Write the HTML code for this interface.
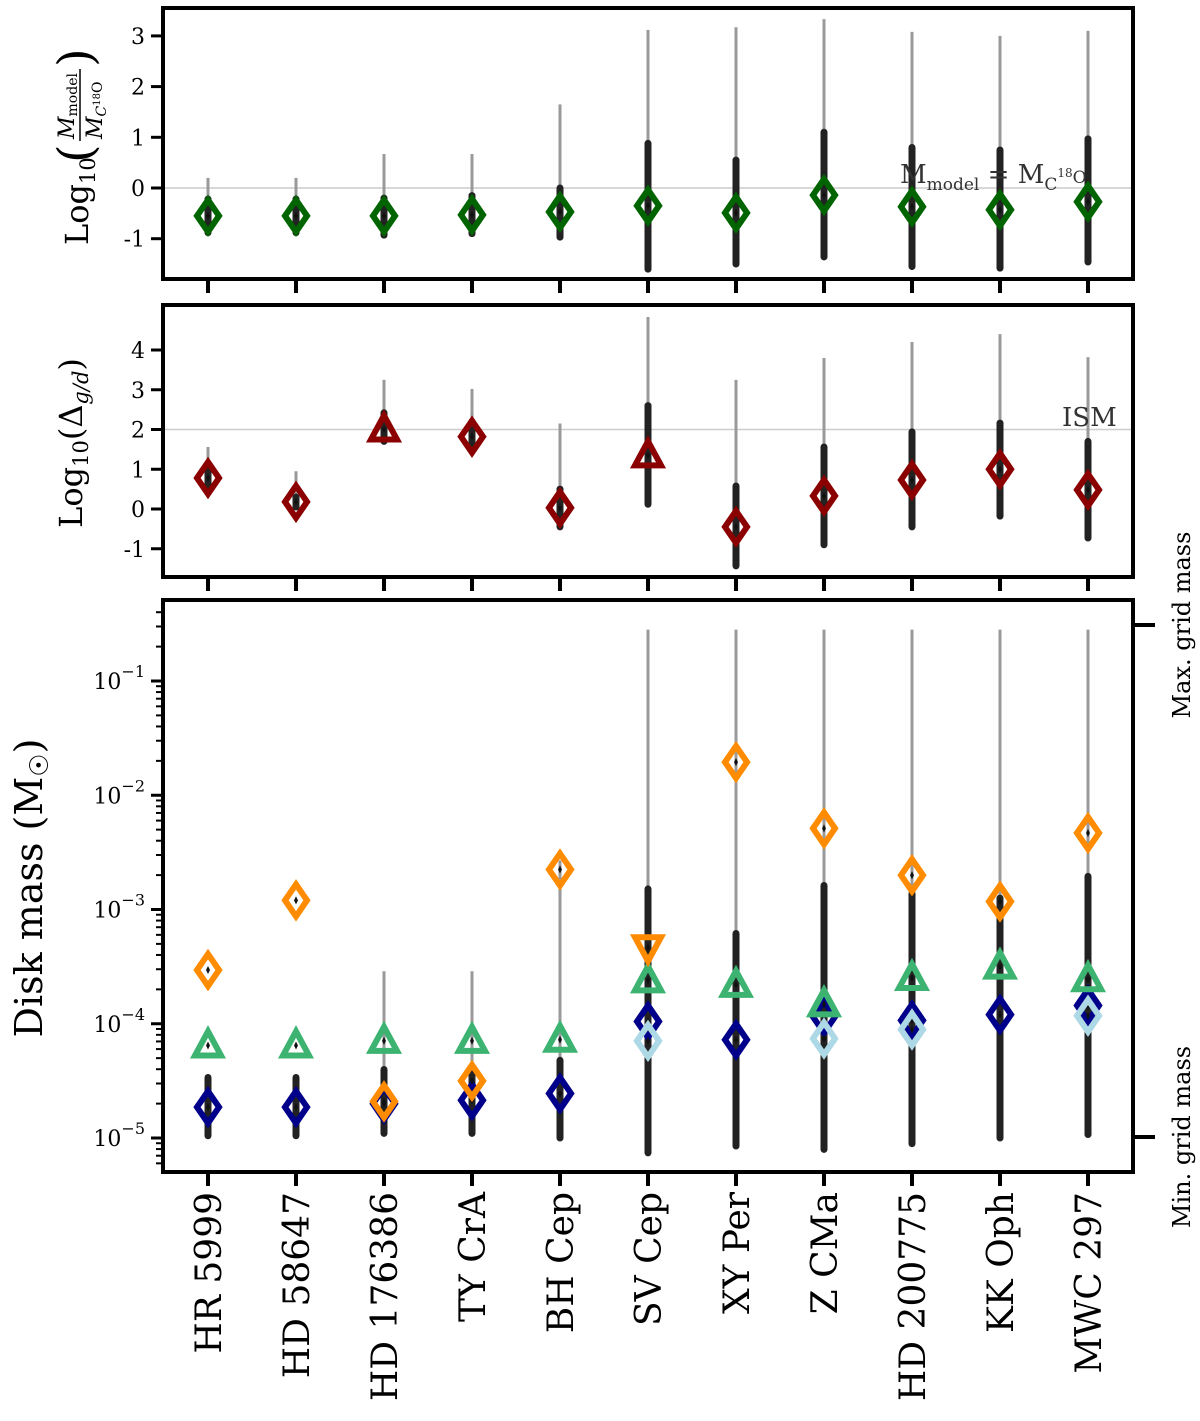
<!DOCTYPE html>
<html><head><meta charset="utf-8"><style>
body{margin:0;background:#fff;}
svg{display:block;font-family:"DejaVu Serif","Liberation Serif",serif;}
</style></head><body>
<svg id="c" width="1200" height="1421" viewBox="0 0 1200 1421"></svg>
<script>
const stars=["HR 5999","HD 58647","HD 176386","TY CrA","BH Cep","SV Cep","XY Per","Z CMa","HD 200775","KK Oph","MWC 297"];
// Panel 1: log10(Mmodel/MC18O)
const p1Val=[-0.55,-0.55,-0.55,-0.53,-0.47,-0.35,-0.49,-0.14,-0.37,-0.43,-0.27];
const p1ThickLo=[-0.88,-0.88,-0.93,-0.9,-0.97,-1.6,-1.5,-1.36,-1.55,-1.58,-1.46];
const p1ThickHi=[-0.22,-0.22,-0.2,-0.15,0.0,0.88,0.55,1.1,0.8,0.75,0.97];
const p1ThinHi=[0.2,0.2,0.67,0.67,1.65,3.12,3.17,3.33,3.08,3.0,3.1];
// Panel 2: log10 gas-to-dust
const p2Val=[0.78,0.18,2.0,1.82,0.03,1.35,-0.45,0.33,0.73,1.0,0.48];
const p2Shape=["d","d","t","d","d","t","d","d","d","d","d"];
const p2ThickLo=[0.6,0.05,1.7,1.5,-0.45,0.12,-1.43,-0.9,-0.45,-0.18,-0.73];
const p2ThickHi=[1.0,0.3,2.42,2.2,0.5,2.6,0.58,1.56,1.94,2.16,1.7];
const p2ThinHi=[1.56,0.95,3.25,3.02,2.15,4.83,3.25,3.8,4.2,4.4,3.82];
// Panel 3: log10 disk mass (Msun)
const p3Orange=[-3.53,-2.92,-4.68,-4.5,-2.65,-3.33,-1.71,-2.29,-2.70,-2.93,-2.33];
const p3OrangeShape=["d","d","d","d","d","v","d","d","d","d","d"];
const p3Green=[-4.19,-4.19,-4.15,-4.15,-4.14,-3.62,-3.66,-3.83,-3.60,-3.50,-3.61];
const p3Navy=[-4.73,-4.73,-4.70,-4.67,-4.61,-3.98,-4.14,-3.94,-3.97,-3.92,-3.84];
const p3Light=[null,null,null,null,null,-4.15,null,-4.13,-4.05,null,-3.93];
const p3ThickLo=[-4.98,-4.98,-4.96,-4.96,-5.0,-5.13,-5.07,-5.1,-5.05,-5.0,-4.97];
const p3ThickHi=[-4.47,-4.47,-4.40,-4.40,-4.32,-2.82,-3.21,-2.79,-2.86,-2.9,-2.71];
const p3ThinHi=[null,null,-3.54,-3.54,-2.57,-0.55,-0.55,-0.55,-0.55,-0.55,-0.55];
const p1Ticks=[3,2,1,0,-1];
const p2Ticks=[4,3,2,1,0,-1];
const p3Ticks=[-1,-2,-3,-4,-5];

const svg=document.getElementById('c');
const NS="http://www.w3.org/2000/svg";
function el(tag,attrs,parent){const e=document.createElementNS(NS,tag);for(const k in attrs)e.setAttribute(k,attrs[k]);(parent||svg).appendChild(e);return e;}
const X0=163,X1=1133;
const xs=i=>208+i*88;
const y1=v=>188-v*50.7;
const y2=v=>509-v*39.75;
const y3=v=>1138-(v+5)*114.25;

function frame(top,bot,name){
  const r=el('rect',{x:X0,y:top,width:X1-X0,height:bot-top,fill:'none',stroke:'#000','stroke-width':4});
  
  
  stars.forEach((s,i)=>{const t=el('line',{x1:xs(i),x2:xs(i),y1:bot,y2:bot+14,stroke:'#000','stroke-width':4});
    
    });
}
function yticks(ticks,f,name,lbl){
  const g=el('g',{});
  
  
  ticks.forEach(v=>{const y=f(v);
    el('line',{x1:X0-12,x2:X0,y1:y,y2:y,stroke:'#000','stroke-width':3},g);
    const t=el('text',{x:X0-18,y:y+8,'text-anchor':'end','font-size':22},g);
    if(lbl){t.textContent='10';const s=el('tspan',{dy:-12,'font-size':16},t);s.textContent='\u2212'+(-v);}
    else t.textContent=v<0?'-'+(-v):String(v);
  });
}
function errbar(i,lo,hi,f,thin){
  const l=el('line',{x1:xs(i),x2:xs(i),y1:f(lo),y2:f(hi),stroke:thin?'#9a9a9a':'#222','stroke-width':thin?3:7,'stroke-linecap':thin?'butt':'round'});
  
  
}
function marker(i,y,shape,color,name){
  const x=xs(i);let m;
  if(shape==='d')m=el('polygon',{points:`${x},${y-16} ${x+11},${y} ${x},${y+16} ${x-11},${y}`,fill:'none',stroke:color,'stroke-width':6,'stroke-linejoin':'miter'});
  else if(shape==='t')m=el('polygon',{points:`${x},${y-14} ${x+13},${y+10} ${x-13},${y+10}`,fill:'none',stroke:color,'stroke-width':6});
  else m=el('polygon',{points:`${x},${y+14} ${x+13},${y-10} ${x-13},${y-10}`,fill:'none',stroke:color,'stroke-width':6});
  
  
  el('polygon',{points:`${x},${y-4} ${x+2},${y} ${x},${y+4} ${x-2},${y}`,fill:'#111'});
}
// Panel 1
el('line',{x1:X0,x2:X1,y1:y1(0),y2:y1(0),stroke:'#ccc','stroke-width':1.5});
stars.forEach((s,i)=>{errbar(i,p1ThickLo[i],p1ThinHi[i],y1,true);errbar(i,p1ThickLo[i],p1ThickHi[i],y1,false);marker(i,y1(p1Val[i]),'d','#006400','mass-ratio-point');});
frame(8,279,'panel-mass-ratio');
yticks(p1Ticks,y1,'y-ticks-mass-ratio',false);
let t=el('text',{x:900,y:183,'font-size':26,fill:'#333'});


t.innerHTML='M<tspan dy="7" font-size="17">model</tspan><tspan dy="-7"> = M</tspan><tspan dy="7" font-size="17">C</tspan><tspan dy="-13" font-size="12">18</tspan><tspan dy="6" font-size="17">O</tspan>';
const g1=el('g',{transform:'translate(80,145) rotate(-90)'});


el('text',{x:-100,y:8,'font-size':32},g1).innerHTML='Log<tspan dy="7" font-size="21">10</tspan>';
el('text',{x:-18,y:12,'font-size':48,'font-weight':'lighter'},g1).textContent='(';
el('text',{x:6,y:-6,'font-size':22,'font-style':'italic'},g1).innerHTML='M<tspan dy="3" font-size="14" font-style="normal">model</tspan>';
el('line',{x1:4,x2:76,y1:0,y2:0,stroke:'#000','stroke-width':1.5},g1);
el('text',{x:6,y:22,'font-size':22,'font-style':'italic'},g1).innerHTML='M<tspan dy="4" font-size="14">C</tspan><tspan dy="-6" font-size="10" font-style="normal">18</tspan><tspan dy="2" font-size="14" font-style="normal">O</tspan>';
el('text',{x:78,y:12,'font-size':48},g1).textContent=')';
// Panel 2
el('line',{x1:X0,x2:X1,y1:y2(2),y2:y2(2),stroke:'#ccc','stroke-width':1.5});
stars.forEach((s,i)=>{errbar(i,p2ThickLo[i],p2ThinHi[i],y2,true);errbar(i,p2ThickLo[i],p2ThickHi[i],y2,false);marker(i,y2(p2Val[i]),p2Shape[i],'#8b0000','gas-dust-point');});
frame(305,577,'panel-gas-to-dust');
yticks(p2Ticks,y2,'y-ticks-gas-to-dust',false);
t=el('text',{x:1062,y:426,'font-size':26,fill:'#333'});t.textContent='ISM';


t=el('text',{transform:'translate(82,443) rotate(-90)','text-anchor':'middle','font-size':32});


t.innerHTML='Log<tspan dy="6" font-size="21">10</tspan><tspan dy="-6">(Δ</tspan><tspan dy="6" font-size="21" font-style="italic">g/d</tspan><tspan dy="-6">)</tspan>';
// Panel 3
stars.forEach((s,i)=>{
  if(p3ThinHi[i]!==null)errbar(i,p3ThickLo[i],p3ThinHi[i],y3,true);
  errbar(i,p3ThickLo[i],p3ThickHi[i],y3,false);
  marker(i,y3(p3Navy[i]),'d','#00008b','disk-mass-navy');
  if(p3Light[i]!==null)marker(i,y3(p3Light[i]),'d','#add8e6','disk-mass-lightblue');
  marker(i,y3(p3Green[i]),'t','#3cb371','disk-mass-green');
  marker(i,y3(p3Orange[i]),p3OrangeShape[i],'#ff8c00','disk-mass-orange');
});
frame(600,1172,'panel-disk-mass');
yticks(p3Ticks,y3,'y-ticks-disk-mass',true);
for(let d=-6;d<=0;d++)for(let k=2;k<=9;k++){const v=d+Math.log10(k);const y=y3(v);if(y>602&&y<1170)el('line',{x1:X0-7,x2:X0,y1:y,y2:y,stroke:'#000','stroke-width':2});}
[[625,'Max. grid mass'],[1137,'Min. grid mass']].forEach(([y,s])=>{
  el('line',{x1:X1,x2:X1+22,y1:y,y2:y,stroke:'#000','stroke-width':4});
  const tt=el('text',{transform:`translate(1190,${y}) rotate(-90)`,'text-anchor':'middle','font-size':24});tt.textContent=s;
  
  
});
t=el('text',{transform:'translate(42,888) rotate(-90)','text-anchor':'middle','font-size':38});


t.innerHTML='Disk mass (M<tspan dy="6" font-size="26">☉</tspan><tspan dy="-6">)</tspan>';
stars.forEach((s,i)=>{const tt=el('text',{transform:`translate(${xs(i)+13},1192) rotate(-90)`,'text-anchor':'end','font-size':36});tt.textContent=s;
  
  });
</script>
</body></html>
